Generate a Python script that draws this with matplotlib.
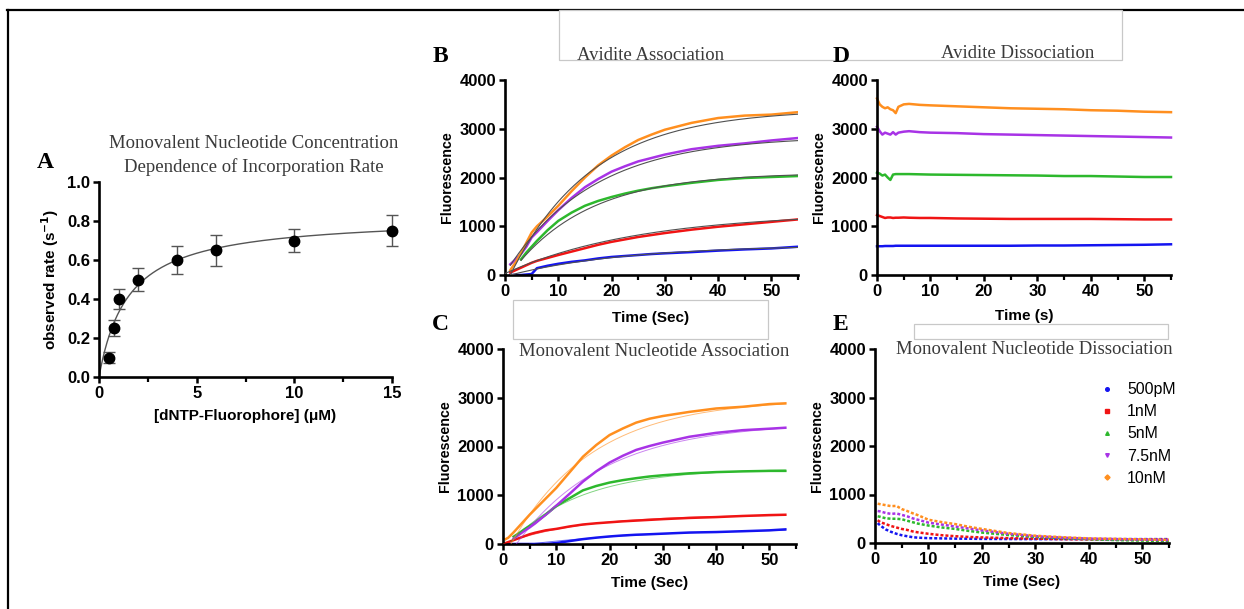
import numpy as np
import matplotlib
matplotlib.use('Agg')
import matplotlib.pyplot as plt
from matplotlib.patches import Rectangle
from matplotlib.lines import Line2D
from matplotlib.ticker import MultipleLocator, FormatStrFormatter

W, H = 1244, 609

# ---------------- Panel A data ----------------
conc_uM = [0.5, 0.75, 1, 2, 4, 6, 10, 15]
rate = [0.10, 0.25, 0.40, 0.50, 0.60, 0.65, 0.70, 0.75]
rate_err = [0.03, 0.04, 0.05, 0.06, 0.07, 0.08, 0.06, 0.08]
fit_vmax = 0.825
fit_kd = 1.5

# ---------------- series ----------------
series_labels = ['500pM', '1nM', '5nM', '7.5nM', '10nM']
colors = ['#1414F0', '#F01414', '#2DB82D', '#A833E6', '#FF8F1F']
legend_markers = ['o', 's', '^', 'v', 'D']

# Panel B: Avidite association
t_B = [1, 2, 3, 4, 5, 6, 8, 10, 12.5, 15, 17.5, 20, 22.5, 25, 27.5, 30, 35, 40, 45, 50, 55]
B_500pM = [0, 0, 0, 10, 20, 140, 190, 230, 270, 300, 340, 370, 390, 410, 430, 445, 470, 500, 525, 545, 580]
B_1nM = [50, 100, 150, 200, 250, 290, 350, 410, 480, 550, 620, 680, 730, 780, 820, 860, 930, 990, 1040, 1090, 1140]
B_5nM = [np.nan, np.nan, 320, 460, 580, 700, 920, 1110, 1280, 1420, 1520, 1600, 1670, 1730, 1780, 1820, 1890, 1950, 1990, 2010, 2030]
B_7_5nM = [220, 320, 430, 580, 770, 880, 1110, 1330, 1580, 1800, 1970, 2120, 2230, 2330, 2400, 2470, 2580, 2650, 2700, 2760, 2810]
B_10nM = [100, 260, 450, 660, 870, 1000, 1200, 1420, 1720, 2000, 2250, 2450, 2620, 2770, 2880, 2980, 3120, 3220, 3270, 3290, 3340]
# fit parameters (F0, amplitude, k, t0)
B_fits = [(0, 620, 0.045, 1.0), (30, 1250, 0.040, 0.0), (300, 1800, 0.070, 3.0),
          (200, 2650, 0.062, 1.0), (0, 3400, 0.065, 1.0)]

# Panel C: Monovalent nucleotide association
t_C = [0.5, 1, 2, 3, 4, 5, 6, 8, 10, 12.5, 15, 17.5, 20, 22.5, 25, 27.5, 30, 35, 40, 45, 50, 53]
C_500pM = [0, 0, 0, 0, 0, 0, 0, 0, 20, 60, 100, 130, 155, 175, 190, 200, 212, 235, 245, 262, 280, 300]
C_1nM = [20, 40, 80, 120, 160, 200, 230, 280, 310, 360, 400, 425, 445, 465, 480, 495, 510, 535, 552, 575, 593, 600]
C_5nM = [np.nan, np.nan, 150, 220, 300, 370, 440, 600, 780, 940, 1100, 1190, 1260, 1310, 1350, 1385, 1410, 1450, 1475, 1490, 1500, 1500]
C_7_5nM = [np.nan, np.nan, 110, 190, 270, 340, 420, 600, 785, 1030, 1280, 1490, 1670, 1810, 1930, 2010, 2080, 2200, 2280, 2335, 2365, 2385]
C_10nM = [100, 130, 240, 360, 480, 600, 710, 930, 1150, 1470, 1790, 2030, 2235, 2370, 2490, 2570, 2625, 2710, 2780, 2815, 2870, 2885]
C_fits = [(0, 330, 0.040, 5.0), (0, 600, 0.070, 0.0), (50, 1500, 0.075, 1.5),
          (0, 2500, 0.060, 2.5), (0, 2980, 0.065, 1.5)]

# Panel D: Avidite dissociation
t_D = [0, 0.5, 1, 1.5, 2, 2.5, 3, 3.5, 4, 5, 6, 8, 10, 15, 20, 25, 30, 35, 40, 45, 50, 55]
D_500pM = [590, 590, 590, 595, 595, 595, 595, 600, 600, 600, 600, 600, 600, 600, 600, 600, 605, 605, 610, 615, 620, 630]
D_1nM = [1230, 1210, 1190, 1170, 1180, 1180, 1170, 1175, 1175, 1180, 1175, 1170, 1170, 1160, 1155, 1150, 1150, 1150, 1150, 1145, 1140, 1140]
D_5nM = [2100, 2080, 2040, 2060, 2000, 1950, 2060, 2070, 2070, 2070, 2070, 2065, 2060, 2055, 2050, 2045, 2040, 2030, 2030, 2020, 2010, 2010]
D_7_5nM = [3040, 2950, 2880, 2920, 2900, 2880, 2930, 2880, 2920, 2940, 2950, 2930, 2920, 2910, 2890, 2880, 2870, 2860, 2850, 2840, 2830, 2820]
D_10nM = [3620, 3500, 3450, 3420, 3440, 3400, 3380, 3320, 3450, 3500, 3510, 3490, 3480, 3460, 3440, 3420, 3410, 3400, 3380, 3370, 3350, 3340]

# Panel E: Monovalent nucleotide dissociation
t_E = [0.5, 1, 2, 3, 4, 5, 6, 7, 8, 10, 12.5, 15, 17.5, 20, 25, 30, 35, 40, 45, 50, 55]
E_500pM = [410, 360, 280, 230, 190, 160, 140, 120, 110, 100, 95, 90, 88, 85, 82, 80, 80, 80, 80, 80, 80]
E_1nM = [470, 430, 390, 350, 320, 290, 270, 240, 220, 190, 160, 140, 125, 115, 100, 90, 80, 75, 70, 70, 65]
E_5nM = [550, 540, 510, 500, 500, 490, 460, 430, 400, 360, 320, 290, 250, 215, 165, 125, 100, 80, 60, 50, 40]
E_7_5nM = [660, 650, 620, 600, 610, 580, 550, 510, 480, 420, 380, 340, 300, 260, 190, 140, 110, 90, 80, 70, 60]
E_10nM = [810, 800, 780, 760, 765, 700, 660, 615, 575, 480, 430, 390, 335, 290, 205, 150, 120, 95, 85, 75, 65]

# ---------------- figure ----------------
fig = plt.figure(figsize=(W / 100, H / 100), dpi=100)
fig.patch.set_facecolor('white')

SANS = 'Liberation Sans'
SERIF = 'Liberation Serif'


def fx(x):
    return x / W


def fy(y):
    return 1 - y / H


def add_ax(x0, x1, ytop, ybot):
    ax = fig.add_axes([fx(x0), fy(ybot), (x1 - x0) / W, (ybot - ytop) / H])
    ax.patch.set_alpha(0)
    for s in ['top', 'right']:
        ax.spines[s].set_visible(False)
    for s in ['left', 'bottom']:
        ax.spines[s].set_linewidth(1.9)
    ax.tick_params(which='major', direction='out', length=4.5, width=1.8,
                   labelsize=12, pad=2)
    ax.tick_params(which='minor', direction='out', length=3.5, width=1.6)
    return ax


def style_ticks(ax):
    for lab in ax.get_xticklabels() + ax.get_yticklabels():
        lab.set_fontfamily(SANS)
        lab.set_fontweight('bold')


def fig_text(x, y, s, **kw):
    fig.text(fx(x), fy(y), s, zorder=5, **kw)


# border lines and overlay boxes
fig.add_artist(Line2D([fx(7), fx(1244)], [fy(10), fy(10)], color='black', lw=1.6, zorder=-2))
fig.add_artist(Line2D([fx(8), fx(8)], [fy(10), fy(609)], color='black', lw=1.6, zorder=-2))
for (x0, y0, x1, y1) in [(559, 10, 1122, 60), (513, 300, 768, 339), (914, 324, 1168, 339)]:
    fig.add_artist(Rectangle((fx(x0), fy(y1)), (x1 - x0) / W, (y1 - y0) / H,
                             transform=fig.transFigure, facecolor='white',
                             edgecolor='#C8C8C8', lw=0.9, zorder=-1))

title_kw = dict(fontfamily=SERIF, fontsize=13.5, color='#3A3A3A')
letter_kw = dict(fontfamily=SERIF, fontsize=17, fontweight='bold', ha='center', va='center')
label_kw = dict(fontfamily=SANS, fontsize=11, fontweight='bold')
ylabel_kw = dict(fontfamily=SANS, fontsize=10.3, fontweight='bold')

# ---------------- Panel A ----------------
axA = add_ax(99, 392, 182, 377)
axA.errorbar(conc_uM, rate, yerr=rate_err, fmt='o', color='black', ms=7.5,
             ecolor='#555555', elinewidth=1.0, capsize=4, capthick=1.0, zorder=3, clip_on=False)
xf = np.linspace(0, 15, 300)
axA.plot(xf, fit_vmax * xf / (fit_kd + xf), color='#555555', lw=1.0, zorder=2)
axA.set_xlim(0, 15)
axA.set_ylim(0, 1.0)
axA.xaxis.set_major_locator(MultipleLocator(5))
axA.xaxis.set_minor_locator(MultipleLocator(2.5))
axA.yaxis.set_major_locator(MultipleLocator(0.2))
axA.yaxis.set_major_formatter(FormatStrFormatter('%.1f'))
style_ticks(axA)
axA.set_xlabel('[dNTP-Fluorophore] (μM)', labelpad=6, **label_kw)
axA.set_ylabel(r'observed rate (s$^{\mathbf{-1}}$)', labelpad=4, **label_kw)
fig_text(254, 144, 'Monovalent Nucleotide Concentration', ha='center', va='center', **title_kw)
fig_text(254, 167, 'Dependence of Incorporation Rate', ha='center', va='center', **title_kw)
fig_text(45, 162, 'A', **letter_kw)


def kinetics_axes(x0, x1, ytop, ybot):
    ax = add_ax(x0, x1, ytop, ybot)
    ax.set_xlim(0, 55)
    ax.set_ylim(0, 4000)
    ax.xaxis.set_major_locator(MultipleLocator(10))
    ax.xaxis.set_minor_locator(MultipleLocator(5))
    ax.yaxis.set_major_locator(MultipleLocator(1000))
    style_ticks(ax)
    return ax


def fit_curve(t_end, p):
    f0, amp, k, t0 = p
    tt = np.linspace(t0, t_end, 200)
    return tt, f0 + amp * (1 - np.exp(-k * (tt - t0)))


DATA_LW = 1.8

# ---------------- Panel B ----------------
axB = kinetics_axes(505, 798, 80, 275)
for ys, c in zip([B_500pM, B_1nM, B_5nM, B_7_5nM, B_10nM], colors):
    axB.plot(t_B, ys, color=c, lw=DATA_LW, zorder=2)
for p in B_fits:
    tt, ff = fit_curve(55, p)
    axB.plot(tt, ff, color='#505050', lw=0.8, zorder=3)
axB.set_ylabel('Fluorescence', labelpad=4, **ylabel_kw)
fig_text(651, 318, 'Time (Sec)', ha='center', va='center', **label_kw)
fig_text(577, 56, 'Avidite Association', ha='left', va='center', **title_kw)
fig_text(440, 57, 'B', **letter_kw)

# ---------------- Panel D ----------------
axD = kinetics_axes(877, 1171, 80, 275)
for ys, c in zip([D_500pM, D_1nM, D_5nM, D_7_5nM, D_10nM], colors):
    axD.plot(t_D, ys, color=c, lw=DATA_LW, zorder=2, clip_on=False)
axD.set_ylabel('Fluorescence', labelpad=4, **ylabel_kw)
fig_text(1024, 316, 'Time (s)', ha='center', va='center', **label_kw)
fig_text(1018, 54, 'Avidite Dissociation', ha='center', va='center', **title_kw)
fig_text(841, 57, 'D', **letter_kw)

# ---------------- Panel C ----------------
axC = kinetics_axes(503, 796, 349, 544)
for ys, c in zip([C_500pM, C_1nM, C_5nM, C_7_5nM, C_10nM], colors):
    axC.plot(t_C, ys, color=c, lw=DATA_LW, zorder=2)
for p, c in zip(C_fits, colors):
    tt, ff = fit_curve(53, p)
    axC.plot(tt, ff, color=c, lw=0.7, alpha=0.6, zorder=3)
axC.set_ylabel('Fluorescence', labelpad=4, **ylabel_kw)
axC.set_xlabel('Time (Sec)', labelpad=6, **label_kw)
fig_text(654, 352, 'Monovalent Nucleotide Association', ha='center', va='center', **title_kw)
fig_text(440, 325, 'C', **letter_kw)

# ---------------- Panel E ----------------
axE = kinetics_axes(875, 1169, 349, 543)
for ys, c in zip([E_500pM, E_1nM, E_5nM, E_7_5nM, E_10nM], colors):
    axE.plot(t_E, ys, color=c, lw=1.8, ls=(0, (1.2, 0.8)), zorder=2)
axE.set_ylabel('Fluorescence', labelpad=4, **ylabel_kw)
axE.set_xlabel('Time (Sec)', labelpad=6, **label_kw)
fig_text(1034, 350, 'Monovalent Nucleotide Dissociation', ha='center', va='center', **title_kw)
fig_text(840, 325, 'E', **letter_kw)

handles = [Line2D([], [], ls='none', marker=m, color=c, ms=2.6)
           for m, c in zip(legend_markers, colors)]
axE.legend(handles, series_labels, loc='upper left',
           bbox_to_anchor=(fx(1085), fy(368)), bbox_transform=fig.transFigure,
           frameon=False, handlelength=1.0, handletextpad=0.75, labelspacing=0.45,
           prop={'family': SANS, 'size': 11.4})

fig.savefig('out.png', dpi=100, facecolor='white')
